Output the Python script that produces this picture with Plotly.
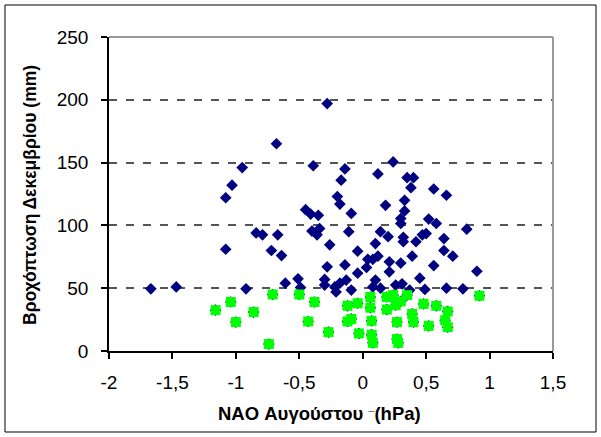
import plotly.graph_objects as go

# Blue series: NAO August (hPa) vs December precipitation (mm)
blue_x = [-1.67, -1.47, -1.08, -1.08, -1.03, -0.95, -0.92, -0.84, -0.79, -0.72,
          -0.68, -0.67, -0.64, -0.61, -0.51, -0.49, -0.45, -0.41, -0.39, -0.40,
          -0.35, -0.34, -0.36, -0.28, -0.26, -0.28, -0.30, -0.30, -0.21, -0.20,
          -0.18, -0.17, -0.14, -0.14, -0.09, -0.11, -0.18, -0.13, -0.09, -0.04,
          -0.04, 0.03, 0.04, 0.08, 0.12, 0.10, 0.14, 0.20, 0.12, 0.18,
          0.24, 0.21, 0.21, 0.30, 0.10, 0.08, 0.14, 0.26, 0.31, 0.32,
          0.32, 0.30, 0.30, 0.33, 0.33, 0.35, 0.40, 0.38, 0.42, 0.39,
          0.37, 0.45, 0.47, 0.50, 0.49, 0.52, 0.58, 0.56, 0.56, 0.64,
          0.64, 0.66, 0.66, 0.71, 0.79, 0.82, 0.90, -0.22]
blue_y = [49.5, 51, 122, 81, 132, 146, 49.5, 94, 92.5, 80,
          165, 92.5, 76, 54, 57.5, 50.5, 112.5, 109, 147.5, 95.5,
          108, 97.5, 92.5, 197, 84.5, 67, 57, 52.5, 47, 123,
          117, 136, 145, 68.5, 109.5, 95, 54, 56.5, 48.5, 79.5,
          62, 66.5, 73, 73, 75.5, 85.5, 95, 91, 141, 116,
          150.5, 71, 63, 70, 56.5, 51, 50, 52.5, 53.5, 90.5,
          87, 105.5, 101.5, 120, 111.5, 138, 138, 130, 87, 75.5,
          48.5, 58, 92.5, 93.5, 49, 105, 101.5, 129, 68, 89.5,
          80, 124, 50, 75.5, 49.5, 97, 63.5, 51]

# Green series: years with precipitation below 50 mm
green_x = [-1.16, -1.04, -1.00, -0.86, -0.71, -0.74, -0.50, -0.38, -0.43, -0.27,
           -0.12, -0.04, -0.12, -0.09, -0.03, 0.06, 0.06, 0.07, 0.07, 0.08,
           0.19, 0.24, 0.35, 0.26, 0.19, 0.30, 0.27, 0.27, 0.28, 0.39,
           0.40, 0.48, 0.58, 0.67, 0.52, 0.65, 0.67, 0.92]
green_y = [32.5, 39, 23, 31, 45, 5.5, 45, 39, 23.5, 15,
           36, 38, 23.5, 25.5, 14, 43, 34.5, 24, 13, 6.5,
           43, 44.5, 44.5, 36.5, 33, 39.5, 23, 9.5, 6.5, 29.5,
           23, 37.5, 36, 31.5, 20, 24.5, 19, 44]

x_ticks = [-2, -1.5, -1, -0.5, 0, 0.5, 1, 1.5]
x_tick_text = ["-2", "-1,5", "-1", "-0,5", "0", "0,5", "1", "1,5"]
y_ticks = [0, 50, 100, 150, 200, 250]

x_title = "NAO Αυγούστου <span style='font-size:11px'>¯</span>(hPa)"
y_title = "Βροχόπτωση Δεκεμβρίου (mm)"

W, H = 601, 437
L, R, T, B = 109, 48, 37, 86
pw, ph = W - L - R, H - T - B

def px(xp):
    return (xp - L) / pw

def py(yp):
    return (H - B - yp) / ph

fig = go.Figure()
fig.add_trace(go.Scatter(
    x=blue_x + green_x, y=blue_y + green_y, mode="markers",
    marker=dict(symbol="diamond", size=9, color="#000080", line=dict(width=0)),
    showlegend=False, hoverinfo="skip"))
fig.add_trace(go.Scatter(
    x=green_x, y=green_y, mode="markers",
    marker=dict(symbol="square", size=10, color="#00FF00", line=dict(width=0)),
    showlegend=False, hoverinfo="skip"))

font_family = "Liberation Sans, Arial, sans-serif"

fig.update_layout(
    width=W, height=H,
    margin=dict(l=L, r=R, t=T, b=B, pad=0),
    paper_bgcolor="white", plot_bgcolor="white",
    font=dict(family=font_family, color="black", size=19),
    xaxis=dict(range=[-2, 1.5], tickvals=x_ticks, ticktext=x_tick_text,
               showgrid=False, zeroline=False, showline=True, linecolor="black",
               linewidth=1.5, ticks="outside", ticklen=6, tickcolor="black",
               tickwidth=1.5, tickfont=dict(size=19), ticklabelstandoff=7,
               fixedrange=True),
    yaxis=dict(range=[0, 250], tickvals=y_ticks, showgrid=True,
               gridcolor="#555555", griddash="8px,9px", gridwidth=1.5,
               zeroline=False, showline=True, linecolor="black", linewidth=1.5,
               ticks="outside", ticklen=6, tickcolor="black", tickwidth=1.5,
               tickfont=dict(size=19), ticklabelstandoff=9, fixedrange=True),
    shapes=[
        dict(type="line", xref="paper", yref="paper", x0=0, x1=1, y0=1, y1=1,
             line=dict(color="#999999", width=2), layer="above"),
        dict(type="line", xref="paper", yref="paper", x0=1, x1=1, y0=0, y1=1,
             line=dict(color="#999999", width=2), layer="above"),
        dict(type="rect", xref="paper", yref="paper",
             x0=px(5), x1=px(596), y0=py(432), y1=py(5),
             line=dict(color="black", width=1), fillcolor="rgba(0,0,0,0)"),
    ],
    annotations=[
        dict(text=f"<b>{x_title}</b>", xref="paper", yref="paper",
             x=px(319), y=py(413), showarrow=False, font=dict(size=18.5),
             xanchor="center", yanchor="middle"),
        dict(text=f"<b>{y_title}</b>", xref="paper", yref="paper",
             x=px(30), y=py(195), showarrow=False, font=dict(size=17.5),
             textangle=-90, xanchor="center", yanchor="middle"),
    ],
)

fig.write_html("out.html")
